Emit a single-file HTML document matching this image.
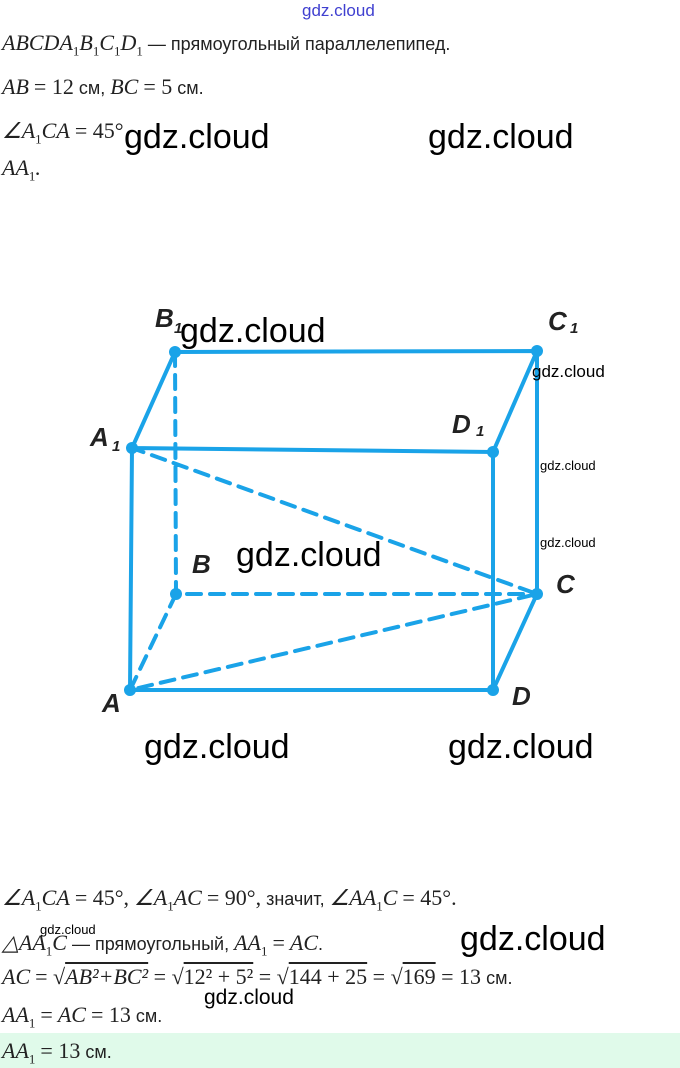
<!DOCTYPE html>
<html><head><meta charset="utf-8"><style>
body{margin:0;width:680px;height:1068px;background:#fff;position:relative;overflow:hidden;font-family:"Liberation Sans",sans-serif}
.t{position:absolute;left:2px;font-size:18px;color:#222;white-space:nowrap}
.m{font-family:"Liberation Serif",serif;font-style:italic;font-size:22px}
.n{font-family:"Liberation Serif",serif;font-size:22px}
.w{position:absolute;font-family:"Liberation Sans",sans-serif;color:#000;white-space:nowrap}
sub{font-size:13px;font-style:normal}
</style></head><body>
<div class="w" style="left:302px;top:1px;font-size:17px;color:#4040d0">gdz.cloud</div>
<div class="t" style="top:30px"><span class="m">ABCDA<sub>1</sub>B<sub>1</sub>C<sub>1</sub>D<sub>1</sub></span> — прямоугольный параллелепипед.</div>
<div class="t" style="top:74px"><span class="m">AB</span> <span class="n">= 12</span> см, <span class="m">BC</span> <span class="n">= 5</span> см.</div>
<div class="t" style="top:118px"><span class="m">∠A<sub>1</sub>CA</span> <span class="n">= 45°</span></div>
<div class="t" style="top:155px"><span class="m">AA<sub>1</sub>.</span></div>
<div class="w" style="left:124px;top:118px;font-size:34px">gdz.cloud</div>
<div class="w" style="left:428px;top:118px;font-size:34px">gdz.cloud</div>
<svg style="position:absolute;left:0;top:0" width="680" height="1068">
<g stroke="#1aa3e8" stroke-width="4" fill="none" stroke-linecap="round">
<path d="M175 352 L537 351 L493 452 L132 448 Z M132 448 L130 690 L493 690 L493 452 M493 690 L537 594 L537 351"/>
<path stroke-dasharray="14 9" d="M175 352 L176 594 L537 594 M176 594 L130 690 L537 594 L132 448"/>
</g>
<g fill="#1aa3e8"><circle cx="175" cy="352" r="6"/><circle cx="537" cy="351" r="6"/><circle cx="132" cy="448" r="6"/><circle cx="493" cy="452" r="6"/><circle cx="176" cy="594" r="6"/><circle cx="537" cy="594" r="6"/><circle cx="130" cy="690" r="6"/><circle cx="493" cy="690" r="6"/></g>
<g font-family="Liberation Sans" font-style="italic" font-weight="bold" font-size="26" fill="#222">
<text x="155" y="327">B</text><text x="174" y="333" font-size="15">1</text>
<text x="548" y="330">C</text><text x="570" y="333" font-size="15">1</text>
<text x="90" y="446">A</text><text x="112" y="451" font-size="15">1</text>
<text x="452" y="433">D</text><text x="476" y="436" font-size="15">1</text>
<text x="192" y="573">B</text><text x="556" y="593">C</text>
<text x="102" y="712">A</text><text x="512" y="705">D</text>
</g>
</svg>
<div class="w" style="left:180px;top:312px;font-size:34px">gdz.cloud</div>
<div class="w" style="left:532px;top:362px;font-size:17px">gdz.cloud</div>
<div class="w" style="left:540px;top:458px;font-size:13px">gdz.cloud</div>
<div class="w" style="left:540px;top:535px;font-size:13px">gdz.cloud</div>
<div class="w" style="left:236px;top:536px;font-size:34px">gdz.cloud</div>
<div class="w" style="left:144px;top:728px;font-size:34px">gdz.cloud</div>
<div class="w" style="left:448px;top:728px;font-size:34px">gdz.cloud</div>
<div class="t" style="top:885px"><span class="m">∠A<sub>1</sub>CA</span> <span class="n">= 45°,</span> <span class="m">∠A<sub>1</sub>AC</span> <span class="n">= 90°,</span> значит, <span class="m">∠AA<sub>1</sub>C</span> <span class="n">= 45°.</span></div>
<div class="t" style="top:930px"><span class="m">△AA<sub>1</sub>C</span> — прямоугольный, <span class="m">AA<sub>1</sub></span> <span class="n">=</span> <span class="m">AC</span>.</div>
<div class="w" style="left:40px;top:922px;font-size:13px">gdz.cloud</div>
<div class="w" style="left:460px;top:920px;font-size:34px">gdz.cloud</div>
<div class="t" style="top:964px"><span class="m">AC</span> <span class="n">= √<span class="m" style="text-decoration:overline">AB²+BC²</span> = √<span style="text-decoration:overline">12² + 5²</span> = √<span style="text-decoration:overline">144 + 25</span> = √<span style="text-decoration:overline">169</span> = 13</span> см.</div>
<div class="w" style="left:204px;top:986px;font-size:21px">gdz.cloud</div>
<div class="t" style="top:1002px"><span class="m">AA<sub>1</sub></span> <span class="n">=</span> <span class="m">AC</span> <span class="n">= 13</span> см.</div>
<div style="position:absolute;left:0;top:1033px;width:680px;height:35px;background:#e0faea"></div>
<div class="t" style="top:1038px"><span class="m">AA<sub>1</sub></span> <span class="n">= 13</span> см.</div>
</body></html>
